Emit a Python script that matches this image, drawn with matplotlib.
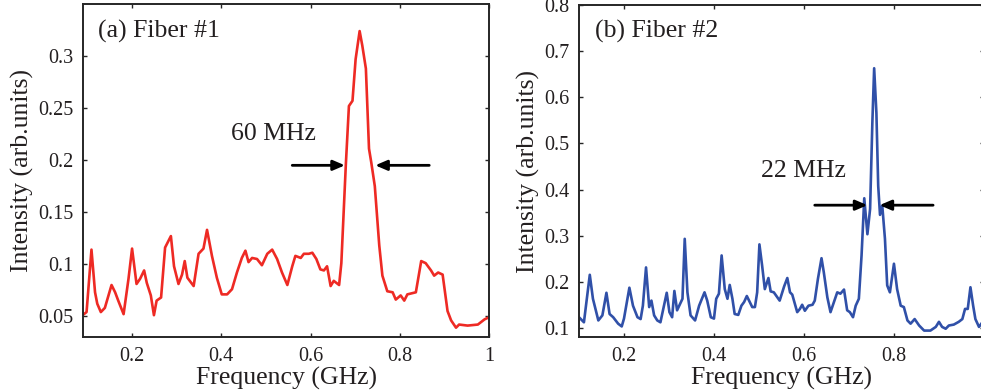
import matplotlib
matplotlib.use("Agg")
from matplotlib import pyplot as plt

plt.rcParams['font.family'] = ['Liberation Serif', 'DejaVu Serif']

TEXT = '#231f20'

# Fiber #1 spectrum (GHz, arb. units)
freq1 = [0.092, 0.098, 0.109, 0.117, 0.122, 0.130, 0.139, 0.154, 0.162, 0.169,
         0.181, 0.192, 0.200, 0.210, 0.218, 0.227, 0.233, 0.242, 0.249, 0.255,
         0.265, 0.274, 0.287, 0.294, 0.304, 0.312, 0.318, 0.324, 0.338, 0.349,
         0.360, 0.368, 0.379, 0.390, 0.401, 0.413, 0.424, 0.435, 0.446, 0.454,
         0.461, 0.469, 0.480, 0.491, 0.503, 0.514, 0.525, 0.536, 0.548, 0.559,
         0.566, 0.578, 0.585, 0.596, 0.604, 0.613, 0.622, 0.630, 0.637, 0.645,
         0.652, 0.664, 0.669, 0.679, 0.686, 0.694, 0.701, 0.710, 0.716, 0.724,
         0.731, 0.736, 0.744, 0.754, 0.761, 0.772, 0.784, 0.791, 0.802, 0.810,
         0.817, 0.836, 0.848, 0.858, 0.870, 0.877, 0.886, 0.896, 0.907, 0.915,
         0.926, 0.933, 0.952, 0.975, 0.990, 1.000]
int1 = [0.052, 0.054, 0.114, 0.073, 0.062, 0.054, 0.058, 0.080, 0.073, 0.065,
        0.052, 0.086, 0.115, 0.081, 0.086, 0.094, 0.082, 0.070, 0.051, 0.065,
        0.068, 0.116, 0.127, 0.098, 0.081, 0.090, 0.103, 0.087, 0.079, 0.110,
        0.115, 0.133, 0.108, 0.087, 0.071, 0.071, 0.076, 0.092, 0.106, 0.113,
        0.102, 0.106, 0.105, 0.099, 0.110, 0.114, 0.105, 0.092, 0.080, 0.098,
        0.108, 0.106, 0.110, 0.110, 0.111, 0.105, 0.095, 0.094, 0.098, 0.079,
        0.084, 0.080, 0.101, 0.195, 0.252, 0.257, 0.297, 0.324, 0.310, 0.288,
        0.211, 0.198, 0.175, 0.118, 0.089, 0.074, 0.073, 0.066, 0.070, 0.065,
        0.071, 0.073, 0.103, 0.101, 0.094, 0.089, 0.092, 0.090, 0.055, 0.046,
        0.039, 0.042, 0.041, 0.042, 0.047, 0.049]

# Fiber #2 spectrum
freq2 = [0.100, 0.111, 0.124, 0.131, 0.143, 0.152, 0.161, 0.168, 0.176, 0.187,
         0.195, 0.200, 0.212, 0.220, 0.230, 0.237, 0.242, 0.249, 0.256, 0.261,
         0.267, 0.274, 0.281, 0.295, 0.301, 0.307, 0.312, 0.318, 0.330, 0.335,
         0.341, 0.348, 0.358, 0.367, 0.379, 0.385, 0.393, 0.400, 0.405, 0.411,
         0.417, 0.424, 0.430, 0.435, 0.441, 0.446, 0.454, 0.461, 0.467, 0.473,
         0.478, 0.485, 0.491, 0.496, 0.501, 0.507, 0.513, 0.521, 0.526, 0.533,
         0.546, 0.556, 0.563, 0.569, 0.574, 0.585, 0.591, 0.596, 0.602, 0.610,
         0.619, 0.624, 0.631, 0.639, 0.644, 0.652, 0.659, 0.674, 0.681, 0.689,
         0.696, 0.702, 0.709, 0.715, 0.722, 0.728, 0.734, 0.741, 0.747, 0.752,
         0.756, 0.761, 0.765, 0.769, 0.774, 0.780, 0.785, 0.791, 0.800, 0.807,
         0.815, 0.822, 0.830, 0.837, 0.846, 0.856, 0.867, 0.881, 0.893, 0.900,
         0.907, 0.915, 0.922, 0.933, 0.944, 0.952, 0.958, 0.964, 0.970, 0.976,
         0.981, 0.989, 0.995]
int2 = [0.123, 0.112, 0.215, 0.163, 0.116, 0.127, 0.176, 0.130, 0.123, 0.109,
        0.103, 0.120, 0.187, 0.148, 0.123, 0.119, 0.148, 0.231, 0.145, 0.159,
        0.127, 0.116, 0.112, 0.176, 0.134, 0.123, 0.180, 0.138, 0.163, 0.293,
        0.177, 0.127, 0.116, 0.148, 0.177, 0.159, 0.123, 0.120, 0.163, 0.174,
        0.257, 0.184, 0.163, 0.193, 0.163, 0.130, 0.128, 0.148, 0.156, 0.169,
        0.159, 0.145, 0.145, 0.177, 0.281, 0.235, 0.184, 0.208, 0.179, 0.177,
        0.159, 0.190, 0.208, 0.177, 0.172, 0.134, 0.141, 0.150, 0.137, 0.148,
        0.150, 0.159, 0.206, 0.251, 0.221, 0.166, 0.134, 0.177, 0.174, 0.183,
        0.138, 0.134, 0.123, 0.148, 0.163, 0.257, 0.381, 0.303, 0.358, 0.545,
        0.663, 0.566, 0.408, 0.345, 0.365, 0.293, 0.192, 0.177, 0.239, 0.184,
        0.148, 0.145, 0.116, 0.109, 0.119, 0.105, 0.094, 0.094, 0.102, 0.113,
        0.102, 0.098, 0.105, 0.107, 0.113, 0.119, 0.141, 0.141, 0.188, 0.148,
        0.119, 0.102, 0.110]

xticks = [0.2, 0.4, 0.6, 0.8, 1.0]
xticklabels1 = ['0.2', '0.4', '0.6', '0.8', '1']
xticklabels2 = ['0.2', '0.4', '0.6', '0.8', '']  # "1" falls off the cropped edge
yticks1 = [0.05, 0.1, 0.15, 0.2, 0.25, 0.3]
yticks2 = [0.1, 0.2, 0.3, 0.4, 0.5, 0.6, 0.7, 0.8]


def style_axes(ax):
    for s in ax.spines.values():
        s.set_linewidth(1.4)
        s.set_color('#262626')
    ax.tick_params(direction='in', length=3, width=1, top=True, right=True,
                   labelsize=14.5, colors='#262626', labelcolor=TEXT, pad=7)
    ax.set_xlabel('Frequency (GHz)', fontsize=18.5, color=TEXT, labelpad=1)
    ax.set_ylabel('Intensity (arb.units)', fontsize=18.5, color=TEXT, labelpad=3)


def width_arrows(ax, x_left, x_right, y, x_tail_l, x_tail_r):
    props = dict(arrowstyle='-|>,head_length=0.7,head_width=0.3', lw=2,
                 color='black', shrinkA=0, shrinkB=0)
    ax.annotate('', xy=(x_left, y), xytext=(x_tail_l, y), arrowprops=props)
    ax.annotate('', xy=(x_right, y), xytext=(x_tail_r, y), arrowprops=props)


fig = plt.figure(figsize=(9.81, 3.91), dpi=100)

ax1 = fig.add_axes([0.0846, 0.138, 0.4139, 0.8517])
ax1.plot(freq1, int1, color='#ee2a24', lw=1.9, solid_joinstyle='round')
ax1.set_xlim(0.09, 1.0)
ax1.set_ylim(0.03, 0.35)
ax1.set_xticks(xticks)
ax1.set_xticklabels(xticklabels1)
ax1.set_yticks(yticks1)
ax1.set_yticklabels(['0.05', '0.1', '0.15', '0.2', '0.25', '0.3'])
style_axes(ax1)
ax1.text(0.038, 0.917, '(a) Fiber #1', transform=ax1.transAxes, fontsize=18.5,
         color=TEXT, ha='left', va='center')
ax1.text(0.422, 0.225, '60 MHz', fontsize=18.5, color=TEXT, ha='left', va='center')
width_arrows(ax1, 0.677, 0.745, 0.195, 0.559, 0.866)

ax2 = fig.add_axes([0.5902, 0.138, 0.4128, 0.849])
ax2.plot(freq2, int2, color='#3050a8', lw=1.9, solid_joinstyle='round')
ax2.set_xlim(0.1, 1.0)
ax2.set_ylim(0.08, 0.8)
ax2.set_xticks(xticks)
ax2.set_xticklabels(xticklabels2)
ax2.set_yticks(yticks2)
ax2.set_yticklabels(['0.1', '0.2', '0.3', '0.4', '0.5', '0.6', '0.7', '0.8'])
style_axes(ax2)
ax2.text(0.04, 0.92, '(b) Fiber #2', transform=ax2.transAxes, fontsize=18.5,
         color=TEXT, ha='left', va='center')
ax2.text(0.504, 0.44, '22 MHz', fontsize=18.5, color=TEXT, ha='left', va='center')
width_arrows(ax2, 0.741, 0.768, 0.366, 0.624, 0.887)

fig.savefig('out.png', dpi=100)
